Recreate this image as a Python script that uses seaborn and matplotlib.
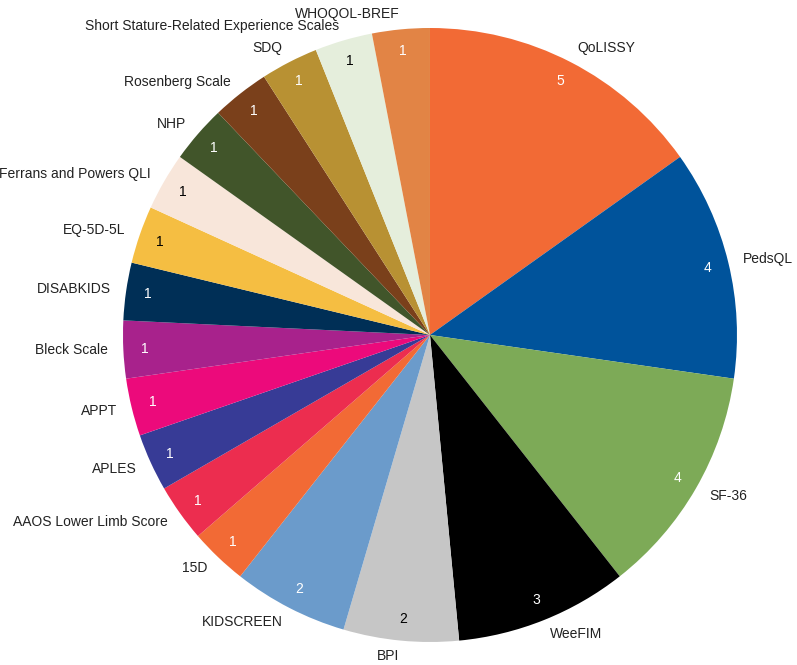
import matplotlib
matplotlib.use("Agg")
import matplotlib.pyplot as plt
import seaborn as sns

instruments = [
    "QoLISSY", "PedsQL", "SF-36", "WeeFIM", "BPI", "KIDSCREEN", "15D",
    "AAOS Lower Limb Score", "APLES", "APPT", "Bleck Scale", "DISABKIDS",
    "EQ-5D-5L", "Ferrans and Powers QLI", "NHP", "Rosenberg Scale", "SDQ",
    "Short Stature-Related Experience Scales", "WHOQOL-BREF",
]
counts = [5, 4, 4, 3, 2, 2, 1, 1, 1, 1, 1, 1, 1, 1, 1, 1, 1, 1, 1]
slice_colors = [
    "#F26A35", "#00539B", "#7DAA57", "#000000", "#C6C6C6", "#6B9BCB", "#F26A35",
    "#EC2D4F", "#373B96", "#EC0A7B", "#A8228C", "#002F56", "#F5BE42",
    "#F8E6DA", "#41552A", "#7A401B", "#B89133", "#E5EEDC", "#E28445",
]
number_colors = [
    "white", "white", "white", "white", "black", "white", "white",
    "white", "white", "white", "white", "white", "black",
    "black", "white", "white", "white", "black", "white",
]

sns.set_theme(style="white")
plt.rcParams["font.family"] = ["Liberation Sans", "DejaVu Sans"]

fig = plt.figure(figsize=(7.97, 6.65), dpi=100)
ax = fig.add_axes([0.1543, 0.0346, 0.7704, 0.9233])

wedges, label_texts, num_texts = ax.pie(
    counts,
    labels=instruments,
    colors=slice_colors,
    startangle=90,
    counterclock=False,
    labeldistance=1.05,
    pctdistance=0.93,
    autopct=lambda p: f"{round(p * sum(counts) / 100)}",
    textprops={"fontsize": 10},
    wedgeprops={"linewidth": 0},
)
for t, c in zip(num_texts, number_colors):
    t.set_color(c)
    t.set_fontsize(10)
for t in label_texts:
    t.set_color("#222222")

ax.set_xlim(-1, 1)
ax.set_ylim(-1, 1)
ax.set_aspect("equal")
ax.axis("off")

fig.savefig("out.png", dpi=100)
